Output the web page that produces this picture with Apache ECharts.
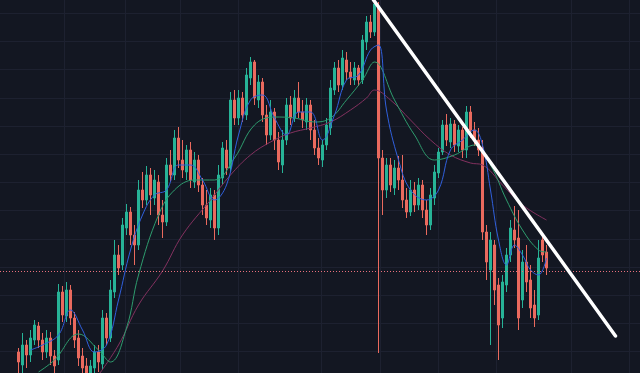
<!DOCTYPE html>
<html><head><meta charset="utf-8">
<script src="https://cdn.jsdelivr.net/npm/echarts@6/dist/echarts.min.js"></script>
<style>html,body{margin:0;padding:0;background:#131722;}#c{width:640px;height:373px;}</style>
</head><body><div id="c"></div><script>
// candle index of the first bar
const candleStart = 4;
const opens = [53,40,60,50,65,79,65,53,67,49,45,113,89,115,87,67,49,39,29,37,53,41,87,67,113,150,140,177,193,170,160,215,205,230,207,223,190,183,240,230,267,245,233,255,223,245,220,200,185,210,177,227,255,237,305,287,307,290,327,343,305,323,290,270,293,265,240,265,300,287,307,293,283,300,275,257,245,260,277,315,337,320,345,333,325,337,325,363,383,373,399,247,215,240,217,237,225,205,193,215,200,220,195,180,207,232,253,280,263,281,259,275,255,293,275,265,257,173,135,160,120,87,120,150,175,167,105,143,125,100,90,165,153];
const closes = [43,60,50,67,80,65,53,67,49,39,113,90,115,87,65,47,37,31,39,53,43,87,67,115,150,137,180,193,170,160,215,205,230,210,225,190,183,240,230,267,245,235,255,225,245,220,200,187,210,177,230,257,237,305,287,307,290,330,343,307,323,290,270,293,265,243,265,300,287,307,293,285,300,275,257,247,260,280,317,337,320,347,333,327,337,325,365,383,373,401,247,215,240,220,237,225,205,193,215,200,220,195,180,210,233,253,280,265,281,260,275,255,293,275,265,255,173,143,165,115,80,123,150,177,165,87,143,123,97,87,147,150,137];
const lows = [32,32,37,43,60,57,45,47,40,32,40,83,83,80,57,39,30,25,23,30,33,35,60,63,107,130,135,170,160,140,155,197,200,190,200,180,167,179,223,225,237,227,225,217,217,213,190,180,177,165,170,220,230,233,280,280,283,285,320,300,297,283,260,265,255,235,232,260,280,283,287,277,275,265,250,240,238,255,270,310,313,315,325,320,320,319,321,355,367,369,52,190,207,213,210,215,197,187,189,193,195,187,170,175,200,227,250,259,257,253,253,247,247,267,259,249,165,125,60,100,45,77,113,143,157,75,97,113,87,78,85,143,130];
const highs = [57,72,65,75,85,83,72,75,73,55,121,119,123,120,93,75,57,47,45,60,60,95,92,125,165,160,187,201,198,180,225,233,239,237,235,230,205,247,255,275,278,265,260,263,253,250,227,215,217,215,240,263,265,313,315,315,313,337,348,345,330,327,300,305,297,273,275,307,309,315,323,305,307,305,285,267,265,287,325,343,345,355,353,343,343,340,370,389,390,407,403,255,247,247,245,249,250,217,225,223,227,225,205,217,240,257,285,291,287,285,280,278,299,299,283,277,265,180,173,165,127,130,157,185,199,195,155,160,140,115,165,172,160];

// moving averages: [candle index, price]
const maFast = [[7,55],[10,60],[14,70],[17,95],[20,75],[23,53],[26,60],[29,105],[32,155],[35,190],[38,210],[41,215],[44,240],[47,240],[50,225],[53,205],[56,220],[59,270],[62,305],[65,310],[68,287],[71,270],[74,293],[77,293],[80,265],[83,290],[86,325],[89,330],[92,355],[94,360],[96,295],[99,245],[102,215],[106,205],[109,215],[112,255],[115,265],[118,275],[120,260],[122,215],[124,165],[126,140],[128,160],[130,150],[132,135],[134,130],[136,147]];
const maMid = [[9,33],[13,45],[19,71],[24,55],[27,43],[31,77],[34,130],[39,190],[43,215],[48,225],[53,225],[58,247],[63,280],[68,288],[73,287],[78,283],[82,287],[86,305],[90,325],[93,343],[98,305],[103,270],[108,245],[113,250],[118,260],[122,240],[126,205],[130,175],[134,155],[136,153]];
const maSlow = [[24,30],[29,60],[34,100],[40,134],[45,170],[52,205],[57,230],[62,250],[67,263],[72,272],[77,277],[82,283],[87,295],[91,307],[93,315],[97,305],[102,285],[107,265],[112,250],[117,242],[120,240],[125,220],[130,200],[136,185]];

const priceLevel = 133.5;         // dotted horizontal price line
const trendX = [92.75, 153.25];   // trend line ends (candle index units)
const trendY = [405, 69];
const timeGrid = [15.5, 30.75, 44.5, 59, 79.75, 94.5, 109, 123.5, 142.25, 156.75];
const priceGrid = [54, 82, 110, 138, 166, 195, 223, 251, 279, 307, 336, 364, 392];

const candles = opens.map((o, k) => [candleStart + k, o, closes[k], lows[k], highs[k]]);

const chart = echarts.init(document.getElementById('c'));
const gridColor = '#1d2130';
const upColor = '#27b397';
const downColor = '#ea6a5e';
chart.setOption({
  backgroundColor: '#131722',
  animation: false,
  grid: {left: 0, right: 0, top: 0, bottom: 0},
  xAxis: {type: 'value', min: -0.625, max: 159.375,
    axisLine: {show: false}, axisLabel: {show: false},
    axisTick: {show: false, customValues: timeGrid},
    splitLine: {show: true, lineStyle: {color: gridColor, width: 1}}},
  yAxis: {type: 'value', min: 32, max: 405,
    axisLine: {show: false}, axisLabel: {show: false},
    axisTick: {show: false, customValues: priceGrid},
    splitLine: {show: true, lineStyle: {color: gridColor, width: 1}}},
  series: [
    {type: 'candlestick', z: 2, barWidth: 2.5, encode: {x: 0, y: [1, 2, 3, 4]},
      data: candles,
      itemStyle: {color: upColor, color0: downColor, borderColor: upColor, borderColor0: downColor, borderWidth: 1},
      markLine: {silent: true, symbol: 'none', label: {show: false},
        lineStyle: {type: [1, 2], color: '#e8707c', width: 1},
        data: [{yAxis: priceLevel}]}},
    {type: 'line', z: 3, data: maSlow, showSymbol: false, smooth: 0.4,
      lineStyle: {color: '#83315f', width: 1}},
    {type: 'line', z: 3, data: maMid, showSymbol: false, smooth: 0.4,
      lineStyle: {color: '#2e9c6e', width: 1}},
    {type: 'line', z: 3, data: maFast, showSymbol: false, smooth: 0.4,
      lineStyle: {color: '#3060dd', width: 1}},
    {type: 'line', z: 5, data: trendX.map((x, k) => [x, trendY[k]]), showSymbol: false,
      lineStyle: {color: '#ffffff', width: 3.5, cap: 'round'}}
  ]
});
</script></body></html>
